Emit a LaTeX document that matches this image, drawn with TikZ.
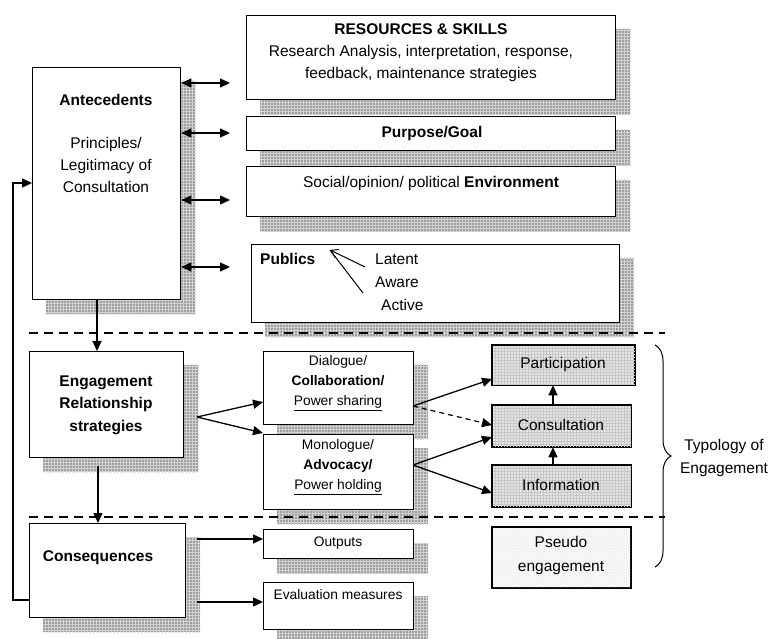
\documentclass[tikz,border=0pt]{standalone}
\usepackage{fontspec}
\setmainfont{Liberation Sans}
\usetikzlibrary{arrows.meta,patterns,backgrounds,decorations.pathreplacing,calc}
\newcommand\mainsz{\fontsize{15.5}{22}\selectfont}
\newcommand\smallsz{\fontsize{13.8}{20}\selectfont}
\newcommand\shd[1]{%
  \fill[shadowc] ([shift={(14pt,-14pt)}]#1.south west) rectangle ([shift={(14pt,-14pt)}]#1.north east);
  \fill[pattern=grid, pattern color=black!18] ([shift={(14pt,-14pt)}]#1.south west) rectangle ([shift={(14pt,-14pt)}]#1.north east);}
\begin{document}
\begin{tikzpicture}[x=1pt,y=-1pt,
  box/.style={draw, line width=1.3pt, fill=white, inner sep=0pt, anchor=north west},
  txt/.style={inner sep=0pt, align=center, font=\mainsz},
  stxt/.style={inner sep=0pt, align=center, font=\smallsz},
  shadowc/.style={fill=black!38},
  arr/.style={line width=1.3pt, -{Triangle[length=10pt,width=9pt]}},
  dbl/.style={line width=1.3pt, {Triangle[length=10pt,width=9pt]}-{Triangle[length=10pt,width=9pt]}},
  darr/.style={line width=1.2pt, dashed, dash pattern=on 5pt off 4pt, -{Triangle[length=10pt,width=9pt]}},
  dline/.style={line width=2pt, dash pattern=on 9pt off 6pt},
  typo/.style={draw, line width=1.3pt, inner sep=0pt, anchor=north west}
]
\useasboundingbox (0,0) rectangle (772,639);

% boxes
\node[box, minimum width=148pt, minimum height=232pt] (ante) at (32,67) {};
\node[box, minimum width=369pt, minimum height=84pt] (res) at (246,15) {};
\node[box, minimum width=369pt, minimum height=34pt] (pur) at (246,116) {};
\node[box, minimum width=369pt, minimum height=50pt] (soc) at (246,166) {};
\node[box, minimum width=368pt, minimum height=78pt] (pub) at (251,244) {};
\node[box, minimum width=154pt, minimum height=106pt] (eng) at (29,351) {};
\node[box, minimum width=150pt, minimum height=73pt] (dia) at (263,351) {};
\node[box, minimum width=150pt, minimum height=75pt] (mon) at (263,434) {};
\node[box, minimum width=156pt, minimum height=94pt] (cns) at (29,523) {};
\node[box, minimum width=150pt, minimum height=29pt] (out) at (263,529) {};
\node[box, minimum width=150pt, minimum height=47pt] (eva) at (263,582) {};

% typology boxes
\node[typo, fill=black!10, minimum width=142pt, minimum height=39pt] (par) at (492,345) {};
\node[typo, fill=black!10, minimum width=138pt, minimum height=41pt] (cst) at (492,405) {};
\node[typo, fill=black!10, minimum width=138pt, minimum height=41pt] (inf) at (492,465) {};
\node[typo, fill=black!3, minimum width=138pt, minimum height=60pt] (pse) at (492,527) {};
\fill[pattern=grid, pattern color=black!22] (par.south west) rectangle (par.north east);
\fill[pattern=grid, pattern color=black!22] (cst.south west) rectangle (cst.north east);
\fill[pattern=grid, pattern color=black!22] (inf.south west) rectangle (inf.north east);
\fill[pattern=dots, pattern color=black!14] (pse.south west) rectangle (pse.north east);
\draw[line width=1.3pt] (par.south west) rectangle (par.north east);
\draw[line width=1.3pt] (cst.south west) rectangle (cst.north east);
\draw[line width=1.3pt] (inf.south west) rectangle (inf.north east);
\draw[line width=1.3pt] (pse.south west) rectangle (pse.north east);

% shadows
\begin{pgfonlayer}{background}
\shd{ante}\shd{res}\shd{pur}\shd{soc}\shd{pub}\shd{eng}\shd{dia}\shd{mon}\shd{cns}\shd{out}\shd{eva}
\end{pgfonlayer}

% texts
\node[txt] (tante) at (106,100) {\textbf{Antecedents}};
\node[txt] (tprin) at (106,165) {Principles/\\Legitimacy of\\Consultation};
\node[txt] (tres) at (421,53) {\textbf{RESOURCES \& SKILLS}\\Research Analysis, interpretation, response,\\feedback, maintenance strategies};
\node[txt] (tpur) at (432,133) {\textbf{Purpose/Goal}};
\node[txt] (tsoc) at (431,183) {Social/opinion/ political \textbf{Environment}};
\node[txt, anchor=west] (tpub) at (260,259) {\textbf{Publics}};
\node[txt, anchor=west] (tlat) at (375,259) {Latent};
\node[txt, anchor=west] (taw) at (375,282) {Aware};
\node[txt, anchor=west] (tact) at (381,305) {Active};
\node[txt, font=\fontsize{15.5}{22.5}\selectfont] (teng) at (106,405) {\textbf{Engagement}\\\textbf{Relationship}\\\textbf{strategies}};
\node[stxt] (tdia) at (338,383) {Dialogue/\\\textbf{Collaboration/}\\\underline{Power sharing}};
\node[stxt] (tmon) at (338,467) {Monologue/\\\textbf{Advocacy/}\\\underline{Power holding}};
\node[txt] (tcns) at (98,558) {\textbf{Consequences}};
\node[stxt] (tout) at (338,543) {Outputs};
\node[stxt] (teva) at (338,595) {Evaluation measures};
\node[txt] (tpar) at (563,364) {Participation};
\node[txt] (tcst) at (561,425) {Consultation};
\node[txt] (tinf) at (561,485) {Information};
\node[txt, font=\fontsize{15.5}{24}\selectfont] (tpse) at (561,555) {Pseudo\\engagement};
\node[txt, font=\fontsize{15.5}{23}\selectfont] (ttyp) at (724,458) {Typology of\\Engagement};

% publics arrow
\coordinate (pa) at (330,250);
\coordinate (pb) at (365,267);
\coordinate (pc) at (363,293);
\draw[line width=1pt, -{Straight Barb[length=7pt,width=9pt]}] (pb) -- (pa);
\draw[line width=1pt] (pc) -- (pa);

% double arrows from antecedents
\coordinate (r1) at (230,83);
\coordinate (r2) at (230,133);
\coordinate (r3) at (230,200);
\coordinate (r4) at (230,267);
\draw[dbl] (ante.east|-r1) -- (r1);
\draw[dbl] (ante.east|-r2) -- (r2);
\draw[dbl] (ante.east|-r3) -- (r3);
\draw[dbl] (ante.east|-r4) -- (r4);

% dashed separators
\coordinate (d1a) at (29,333); \coordinate (d1b) at (665,333);
\coordinate (d2a) at (29,517); \coordinate (d2b) at (665,517);
\draw[dline] (d1a) -- (d1b);
\draw[dline] (d2a) -- (d2b);

% vertical flow
\coordinate (v1) at (97,299);
\draw[arr] (v1) -- (eng.north-|v1);
\coordinate (v2) at (98,466);
\draw[arr] (v2) -- (cns.north-|v2);

% engagement to strategies
\coordinate (eo) at (197,417);
\coordinate (dI) at (263,402);
\coordinate (mI) at (263,433);
\draw[arr] (eo) -- (dI);
\draw[arr] (eo) -- (mI);

% dialogue / monologue to typology
\coordinate (dO) at (413,406);
\coordinate (mO) at (413,465);
\coordinate (pI) at (492,379);
\coordinate (cI1) at (492,425);
\coordinate (cI2) at (492,437);
\coordinate (iI) at (492,493);
\draw[arr] (dO) -- (pI);
\draw[darr] (dO) -- (cI1);
\draw[arr] (mO) -- (cI2);
\draw[arr] (mO) -- (iI);

% typology internal
\coordinate (ux) at (553,0);
\draw[arr] (inf.north-|ux) -- (cst.south-|ux);
\draw[arr] (cst.north-|ux) -- (par.south-|ux);

% consequences outputs
\coordinate (o1) at (197,539);
\coordinate (o2) at (197,602);
\draw[arr] (o1) -- (out.west|-o1);
\draw[arr] (o2) -- (eva.west|-o2);

% feedback loop
\coordinate (fb1) at (13,600);
\coordinate (fb2) at (13,183);
\draw[arr] (cns.west|-fb1) -- (fb1) -- (fb2) -- (ante.west|-fb2);

% brace
\coordinate (b1) at (655,345);
\coordinate (b2) at (655,567);
\draw[line width=1pt, decorate, decoration={brace, amplitude=16pt}] (b1) -- (b2);
\end{tikzpicture}
\end{document}
